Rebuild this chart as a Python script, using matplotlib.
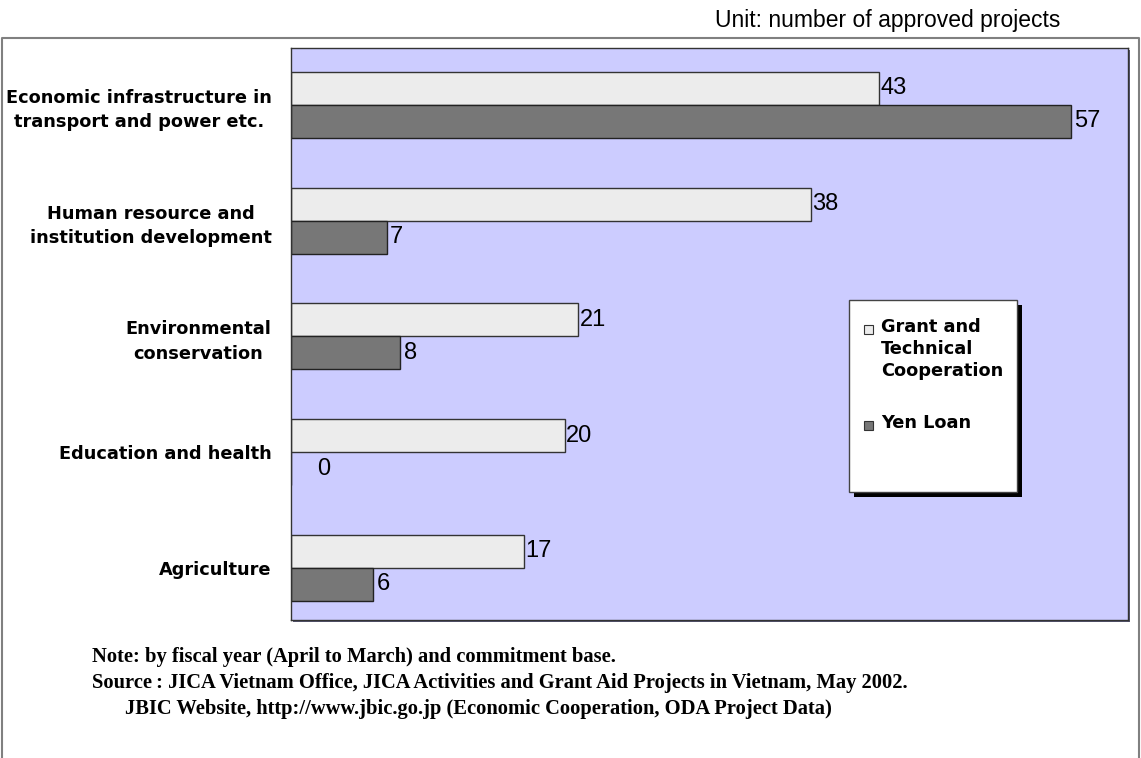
import matplotlib
matplotlib.use("Agg")
import matplotlib.pyplot as plt
from matplotlib.patches import Rectangle
from matplotlib.lines import Line2D

categories = ["Economic infrastructure in\ntransport and power etc.",
              "Human resource and\ninstitution development",
              "Environmental\nconservation",
              "Education and health",
              "Agriculture"]
grant = [43, 38, 21, 20, 17]
yen_loan = [57, 7, 8, 0, 6]
series_names = ["Grant and\nTechnical\nCooperation", "Yen Loan"]
unit_text = "Unit: number of approved projects"
notes = ["Note: by fiscal year (April to March) and commitment base.",
         "Source\u2009: JICA Vietnam Office, JICA Activities and Grant Aid Projects in Vietnam, May 2002.",
         "JBIC Website, http://www.jbic.go.jp (Economic Cooperation, ODA Project Data)"]

W, H = 1141, 758
fig = plt.figure(figsize=(W / 100, H / 100), dpi=100)
fig.patch.set_facecolor("white")

def fx(x):
    return x / W

def fy(y):
    return 1 - y / H

# outer border (left, top, right)
fig.add_artist(Line2D([fx(2), fx(2), fx(1139), fx(1139)], [fy(758), fy(38), fy(38), fy(758)],
                      color="#808080", lw=1.5, transform=fig.transFigure))

# plot area shadow
L, R, T, B = 291, 1128, 48, 620
fig.add_artist(Rectangle((fx(L + 2), fy(B + 2)), fx(R - L), (B - T) / H,
                         transform=fig.transFigure, facecolor="#555570", edgecolor="none", zorder=0))

ax = fig.add_axes([fx(L), fy(B), fx(R - L), (B - T) / H])
ax.set_facecolor("#ccccff")
for s in ax.spines.values():
    s.set_color("#333333")
    s.set_linewidth(1.0)

n = len(categories)
ypos = list(range(n))
h = 0.285
ax.barh([y - h / 2 for y in ypos], grant, height=h, color="#ececec", edgecolor="#333333", linewidth=1.0)
ax.barh([y + h / 2 for y in ypos], yen_loan, height=h, color="#777777", edgecolor="#222222", linewidth=1.0)

ax.set_xlim(0, 61.2)
ax.set_ylim(4.45, -0.49)
ax.set_xticks([])
ax.set_yticks(ypos)
ax.set_yticklabels(categories, fontsize=12.8, fontweight="bold", family="DejaVu Sans",
                   multialignment="center", linespacing=1.45)
ax.tick_params(axis="y", length=0, pad=14)

for y, v in zip(ypos, grant):
    ax.annotate(str(v), (v, y - h / 2), xytext=(1.0, 0), textcoords="offset points",
                va="center", ha="left", fontsize=17, family="Liberation Sans")
for y, v in zip(ypos, yen_loan):
    off = 19 if v == 0 else 2.5
    ax.annotate(str(v), (v, y + h / 2), xytext=(off, 0), textcoords="offset points",
                va="center", ha="left", fontsize=17, family="Liberation Sans")

# legend box
lx0, ly0, lx1, ly1 = 849, 300, 1017, 492
fig.add_artist(Rectangle((fx(lx0 + 5), fy(ly1 + 5)), fx(lx1 - lx0), (ly1 - ly0) / H,
                         transform=fig.transFigure, facecolor="black", edgecolor="none", zorder=5))
fig.add_artist(Rectangle((fx(lx0), fy(ly1)), fx(lx1 - lx0), (ly1 - ly0) / H,
                         transform=fig.transFigure, facecolor="white", edgecolor="#444444",
                         linewidth=1.0, zorder=6))
leg_colors = ["#ececec", "#777777"]
leg_y = [329, 425]
for name, c, yy in zip(series_names, leg_colors, leg_y):
    fig.add_artist(Rectangle((fx(864), fy(yy + 5)), fx(9), 9 / H, transform=fig.transFigure,
                             facecolor=c, edgecolor="#333333", linewidth=0.8, zorder=7))
    fig.text(fx(881), fy(yy - 11), name, fontsize=12.8, fontweight="bold", family="DejaVu Sans",
             va="top", ha="left", linespacing=1.3, zorder=8)

fig.text(fx(1060), fy(21), unit_text, fontsize=16.5, family="Liberation Sans",
         ha="right", va="center")

for x0, y0, t in zip([92, 92, 125], [657, 683, 709], notes):
    fig.text(fx(x0), fy(y0), t, fontsize=14.8, fontweight="bold", family="Liberation Serif",
             ha="left", va="center")

fig.savefig("out.png", dpi=100)
